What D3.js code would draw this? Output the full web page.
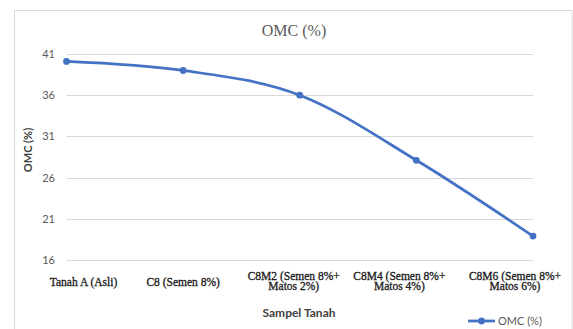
<!DOCTYPE html>
<html>
<head>
<meta charset="utf-8">
<script src="https://cdn.jsdelivr.net/npm/d3@7"></script>
<style>
  html, body { margin: 0; padding: 0; background: #fff; }
  svg { display: block; }
</style>
</head>
<body>
<svg id="chart" width="573" height="329"></svg>
<script>
// Sample names (two-line labels are split into lines)
const categories = [
  ["Tanah A (Asli)"],
  ["C8 (Semen 8%)"],
  ["C8M2 (Semen 8%+", "Matos 2%)"],
  ["C8M4 (Semen 8%+", "Matos 4%)"],
  ["C8M6 (Semen 8%+", "Matos 6%)"]
];
// Optimum moisture content per sample (%)
const omcValues = [40.1, 39.0, 36.0, 28.1, 18.9];
const yTicks = [16, 21, 26, 31, 36, 41];

const svg = d3.select("#chart");
const plotLeft = 66.5, plotRight = 533, plotTop = 54, plotBottom = 260;

// Outer chart frame
svg.append("rect")
  .attr("x", 14.5).attr("y", 10.5)
  .attr("width", 557.5).attr("height", 340)
  .attr("fill", "#fff").attr("stroke", "#d9d9d9").attr("stroke-width", 1);

const x = d3.scalePoint()
  .domain(d3.range(categories.length))
  .range([plotLeft, plotRight]);

const y = d3.scaleLinear()
  .domain([16, 41])
  .range([plotBottom, plotTop]);

// Horizontal gridlines
svg.append("g")
  .selectAll("line")
  .data(yTicks)
  .join("line")
  .attr("x1", plotLeft).attr("x2", plotRight)
  .attr("y1", d => Math.round(y(d)) + 0.5)
  .attr("y2", d => Math.round(y(d)) + 0.5)
  .attr("stroke", "#d9d9d9").attr("stroke-width", 1);

// Y axis labels
const yAxis = d3.axisLeft(y).tickValues(yTicks).tickSize(0).tickPadding(0);
const gy = svg.append("g").attr("transform", "translate(55,0)").call(yAxis);
gy.select(".domain").remove();
gy.selectAll("text")
  .attr("font-family", "Lato, 'Open Sans', sans-serif")
  .attr("font-size", "11px")
  .attr("fill", "#595959");

// X axis labels (serif, possibly two lines); edge labels are nudged inward
const labelShift = [17, 0, -6, -17, -18];
const xl = svg.append("g")
  .selectAll("text")
  .data(categories)
  .join("text")
  .attr("x", (d, i) => x(i) + labelShift[i])
  .attr("text-anchor", "middle")
  .attr("font-family", "'Liberation Serif', 'Times New Roman', serif")
  .attr("font-size", "11.5px")
  .attr("fill", "#1a1a1a")
  .attr("stroke", "#1a1a1a")
  .attr("stroke-width", 0.3);
xl.each(function(lines) {
  const t = d3.select(this);
  const startY = lines.length === 1 ? 286 : 279.5;
  lines.forEach((ln, k) => {
    t.append("tspan").attr("x", t.attr("x")).attr("y", startY + k * 10.5).text(ln);
  });
});

// Smoothed line
const line = d3.line()
  .x((d, i) => x(i))
  .y(d => y(d))
  .curve(d3.curveCardinal.tension(0));

svg.append("path")
  .datum(omcValues)
  .attr("d", line)
  .attr("fill", "none")
  .attr("stroke", "#4472c4")
  .attr("stroke-width", 2.75)
  .attr("stroke-linejoin", "round");

svg.append("g")
  .selectAll("circle")
  .data(omcValues)
  .join("circle")
  .attr("cx", (d, i) => x(i))
  .attr("cy", d => y(d))
  .attr("r", 3.4)
  .attr("fill", "#4472c4");

// Title
svg.append("text")
  .attr("x", 294).attr("y", 36)
  .attr("text-anchor", "middle")
  .attr("font-family", "'Liberation Serif', 'Times New Roman', serif")
  .attr("font-size", "16px")
  .attr("fill", "#595959")
  .text("OMC (%)");

// Axis titles
svg.append("text")
  .attr("x", 299).attr("y", 317)
  .attr("text-anchor", "middle")
  .attr("font-family", "Lato, 'Open Sans', sans-serif")
  .attr("font-weight", "bold")
  .attr("font-size", "12px")
  .attr("fill", "#404040")
  .text("Sampel Tanah");

svg.append("text")
  .attr("transform", "translate(32,150) rotate(-90)")
  .attr("text-anchor", "middle")
  .attr("font-family", "Lato, 'Open Sans', sans-serif")
  .attr("font-weight", "bold")
  .attr("font-size", "11px")
  .attr("fill", "#404040")
  .text("OMC (%)");

// Legend
const lg = svg.append("g").attr("transform", "translate(468,321)");
lg.append("line").attr("x1", 0).attr("x2", 27).attr("y1", 0).attr("y2", 0)
  .attr("stroke", "#4472c4").attr("stroke-width", 2.75);
lg.append("circle").attr("cx", 13.5).attr("cy", 0).attr("r", 3.4).attr("fill", "#4472c4");
lg.append("text").attr("x", 30).attr("y", 4)
  .attr("font-family", "Lato, 'Open Sans', sans-serif")
  .attr("font-size", "11px")
  .attr("fill", "#595959")
  .text("OMC (%)");
</script>
</body>
</html>
